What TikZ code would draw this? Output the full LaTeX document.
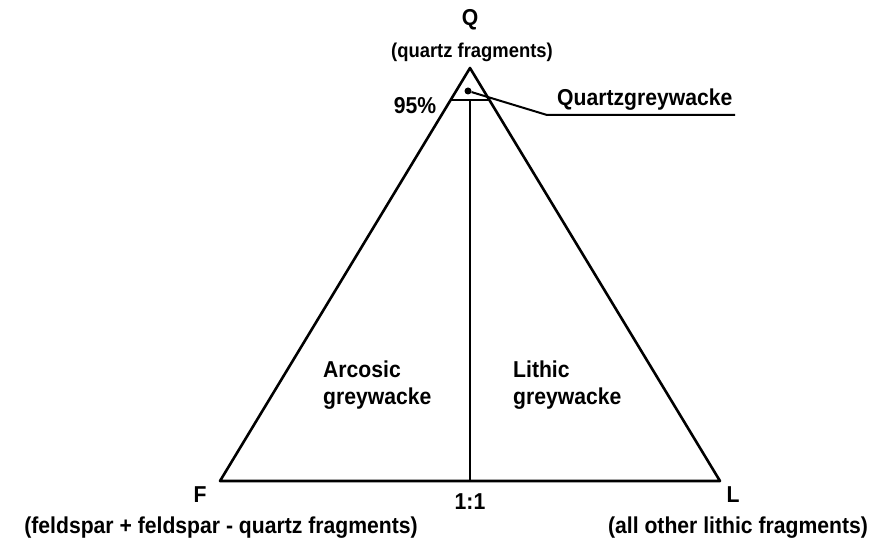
\documentclass[tikz,border=0pt]{standalone}
\usepackage{fontspec}
\setmainfont{Liberation Sans}[FakeStretch=0.92]
\begin{document}
\begin{tikzpicture}[x=1pt,y=-1pt,
  edge/.style={line width=2.6pt, line join=round},
  lbl/.style={font=\bfseries\fontsize{23}{27}\selectfont, inner sep=0pt},
  lbls/.style={font=\bfseries\fontsize{20}{24}\selectfont, inner sep=0pt},
  dotmark/.style={circle, fill=black, inner sep=0pt, minimum size=7pt}]
\useasboundingbox (0,0) rectangle (879,545);
\coordinate (Qv) at (470,68);
\coordinate (Fv) at (220,481);
\coordinate (Lv) at (720,481);
\coordinate (M) at (470,481);
\coordinate (A) at (451,100);
\coordinate (B) at (489,100);
\coordinate (T) at (470,100);
\draw[edge] (Qv) -- (Fv) -- (Lv) -- cycle;
\draw[edge] (A) -- (B);
\draw[edge] (T) -- (M);
\node[dotmark] (dot) at (468,91) {};
\coordinate (K) at (547,115);
\coordinate (E) at (735,115);
\draw[line width=2pt] (dot) -- (K) -- (E);
\node[lbl] (q) at (470,20) {Q};
\node[lbls] (qd) at (472,52) {(quartz fragments)};
\node[lbl] (p95) at (415,106) {95\%};
\node[lbl, anchor=west] (qg) at (557,100) {Quartzgreywacke};
\node[lbl, align=left, anchor=west] (ag) at (323,385) {Arcosic\\greywacke};
\node[lbl, align=left, anchor=west] (lg) at (513,385) {Lithic\\greywacke};
\node[lbl] (f) at (200,495) {F};
\node[lbl] (r) at (470,502) {1:1};
\node[lbl] (l) at (733,495) {L};
\node[lbl] (fd) at (221,528) {(feldspar + feldspar - quartz fragments)};
\node[lbl] (ld) at (738,528) {(all other lithic fragments)};
\end{tikzpicture}
\end{document}
